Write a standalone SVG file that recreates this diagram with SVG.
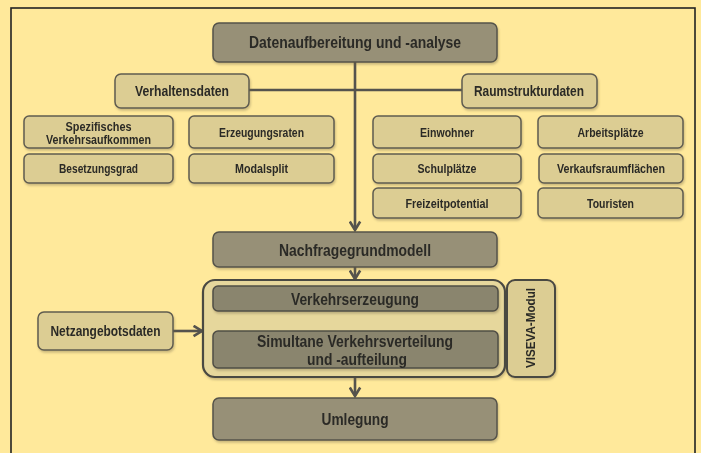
<svg xmlns="http://www.w3.org/2000/svg" width="701" height="453" viewBox="0 0 701 453">
<defs>
<style>
.dark{fill:#979077;stroke:#55534a;stroke-width:1.5}
.darker{fill:#8a856e;stroke:#4f4d45;stroke-width:1.5}
.light{fill:#dccd93;stroke:#5f5c50;stroke-width:1.5}
.grp{fill:#e6d79c;stroke:#4a4842;stroke-width:2.2}
text{font-family:"Liberation Sans",Arial,sans-serif;font-weight:bold;fill:#2b2a26;text-anchor:middle}
.big{font-size:16px}
.mid{font-size:14px}
.sm{font-size:12.5px}
.con{stroke:#55534d;stroke-width:2.6;fill:none}
</style>
<marker id="ah" viewBox="0 0 10 10" refX="8" refY="5" markerWidth="5" markerHeight="5" orient="auto" markerUnits="strokeWidth">
<path d="M1.5,1 L8,5 L1.5,9" fill="none" stroke="#55534d" stroke-width="2" stroke-linejoin="miter"/>
</marker>
<filter id="sh" x="-10%" y="-20%" width="120%" height="150%">
<feDropShadow dx="1" dy="2" stdDeviation="1.2" flood-color="#6b6040" flood-opacity="0.35"/>
</filter>
</defs>
<rect x="0" y="0" width="701" height="453" fill="#ffe99b"/>
<rect x="11" y="8" width="684" height="460" fill="none" stroke="#222" stroke-width="1.6"/>

<g id="connectors">
<line class="con" x1="249" y1="90" x2="462" y2="90"/>
<line class="con" x1="355" y1="62" x2="355" y2="230" marker-end="url(#ah)"/>
<line class="con" x1="355" y1="267" x2="355" y2="279" marker-end="url(#ah)"/>
<line class="con" x1="355" y1="311" x2="355" y2="329" marker-end="url(#ah)"/>
<line class="con" x1="355" y1="377" x2="355" y2="396" marker-end="url(#ah)"/>
<line class="con" x1="173" y1="331" x2="202" y2="331" marker-end="url(#ah)"/>
</g>

<g id="datenaufbereitung" filter="url(#sh)">
<rect class="dark" x="213" y="23" width="284" height="39" rx="6"/>
<text class="big" x="355" y="48" textLength="212" lengthAdjust="spacingAndGlyphs">Datenaufbereitung und -analyse</text>
</g>
<g id="verhaltensdaten" filter="url(#sh)">
<rect class="light" x="115" y="74" width="134" height="34" rx="6"/>
<text class="mid" x="182" y="96" textLength="94" lengthAdjust="spacingAndGlyphs">Verhaltensdaten</text>
</g>
<g id="raumstrukturdaten" filter="url(#sh)">
<rect class="light" x="462" y="74" width="135" height="34" rx="6"/>
<text class="mid" x="529" y="96" textLength="110" lengthAdjust="spacingAndGlyphs">Raumstrukturdaten</text>
</g>

<g id="spezifisches" filter="url(#sh)">
<rect class="light" x="24" y="116" width="149" height="32" rx="5"/>
<text class="sm" x="98.5" y="130.5" textLength="66" lengthAdjust="spacingAndGlyphs">Spezifisches</text>
<text class="sm" x="98.5" y="144" textLength="105" lengthAdjust="spacingAndGlyphs">Verkehrsaufkommen</text>
</g>
<g id="erzeugungsraten" filter="url(#sh)">
<rect class="light" x="189" y="116" width="145" height="32" rx="5"/>
<text class="sm" x="261.5" y="136.5" textLength="85" lengthAdjust="spacingAndGlyphs">Erzeugungsraten</text>
</g>
<g id="besetzungsgrad" filter="url(#sh)">
<rect class="light" x="24" y="154" width="149" height="29" rx="5"/>
<text class="sm" x="98.5" y="173" textLength="79" lengthAdjust="spacingAndGlyphs">Besetzungsgrad</text>
</g>
<g id="modalsplit" filter="url(#sh)">
<rect class="light" x="189" y="154" width="145" height="29" rx="5"/>
<text class="sm" x="261.5" y="173" textLength="53" lengthAdjust="spacingAndGlyphs">Modalsplit</text>
</g>

<g id="einwohner" filter="url(#sh)">
<rect class="light" x="373" y="116" width="148" height="32" rx="5"/>
<text class="sm" x="447" y="136.5" textLength="54" lengthAdjust="spacingAndGlyphs">Einwohner</text>
</g>
<g id="arbeitsplaetze" filter="url(#sh)">
<rect class="light" x="538" y="116" width="145" height="32" rx="5"/>
<text class="sm" x="610.5" y="136.5" textLength="66" lengthAdjust="spacingAndGlyphs">Arbeitsplätze</text>
</g>
<g id="schulplaetze" filter="url(#sh)">
<rect class="light" x="373" y="154" width="148" height="29" rx="5"/>
<text class="sm" x="447" y="173" textLength="59" lengthAdjust="spacingAndGlyphs">Schulplätze</text>
</g>
<g id="verkaufsraumflaechen" filter="url(#sh)">
<rect class="light" x="539" y="154" width="144" height="29" rx="5"/>
<text class="sm" x="611" y="173" textLength="108" lengthAdjust="spacingAndGlyphs">Verkaufsraumflächen</text>
</g>
<g id="freizeitpotential" filter="url(#sh)">
<rect class="light" x="373" y="188" width="148" height="30" rx="5"/>
<text class="sm" x="447" y="207.5" textLength="83" lengthAdjust="spacingAndGlyphs">Freizeitpotential</text>
</g>
<g id="touristen" filter="url(#sh)">
<rect class="light" x="538" y="188" width="145" height="30" rx="5"/>
<text class="sm" x="610.5" y="207.5" textLength="47" lengthAdjust="spacingAndGlyphs">Touristen</text>
</g>

<g id="nachfragegrundmodell" filter="url(#sh)">
<rect class="dark" x="213" y="232" width="284" height="35" rx="6"/>
<text class="big" x="355" y="255.5" textLength="152" lengthAdjust="spacingAndGlyphs">Nachfragegrundmodell</text>
</g>

<g id="viseva-gruppe" filter="url(#sh)">
<rect class="grp" x="203" y="280" width="302" height="97" rx="12"/>
</g>
<g id="verkehrserzeugung" filter="url(#sh)">
<rect class="darker" x="213" y="286" width="285" height="25" rx="5"/>
<text class="big" x="355" y="304.5" textLength="128" lengthAdjust="spacingAndGlyphs">Verkehrserzeugung</text>
</g>
<g id="simultane" filter="url(#sh)">
<rect class="darker" x="213" y="331" width="285" height="37" rx="5"/>
<text class="big" x="355" y="346.5" textLength="196" lengthAdjust="spacingAndGlyphs">Simultane Verkehrsverteilung</text>
<text class="big" x="357" y="364.5" textLength="100" lengthAdjust="spacingAndGlyphs">und -aufteilung</text>
</g>
<g id="viseva-modul" filter="url(#sh)">
<rect class="light" x="507" y="280" width="48" height="97" rx="8" style="stroke:#4a4842;stroke-width:2"/>
<text class="sm" transform="translate(535,328) rotate(-90)" x="0" y="0" textLength="80" lengthAdjust="spacingAndGlyphs">VISEVA-Modul</text>
</g>

<g id="netzangebotsdaten" filter="url(#sh)">
<rect class="light" x="38" y="312" width="135" height="38" rx="6"/>
<text class="mid" x="105.5" y="336" textLength="110" lengthAdjust="spacingAndGlyphs">Netzangebotsdaten</text>
</g>

<g id="umlegung" filter="url(#sh)">
<rect class="dark" x="213" y="398" width="284" height="42" rx="6"/>
<text class="big" x="355" y="425" textLength="67" lengthAdjust="spacingAndGlyphs">Umlegung</text>
</g>
</svg>
